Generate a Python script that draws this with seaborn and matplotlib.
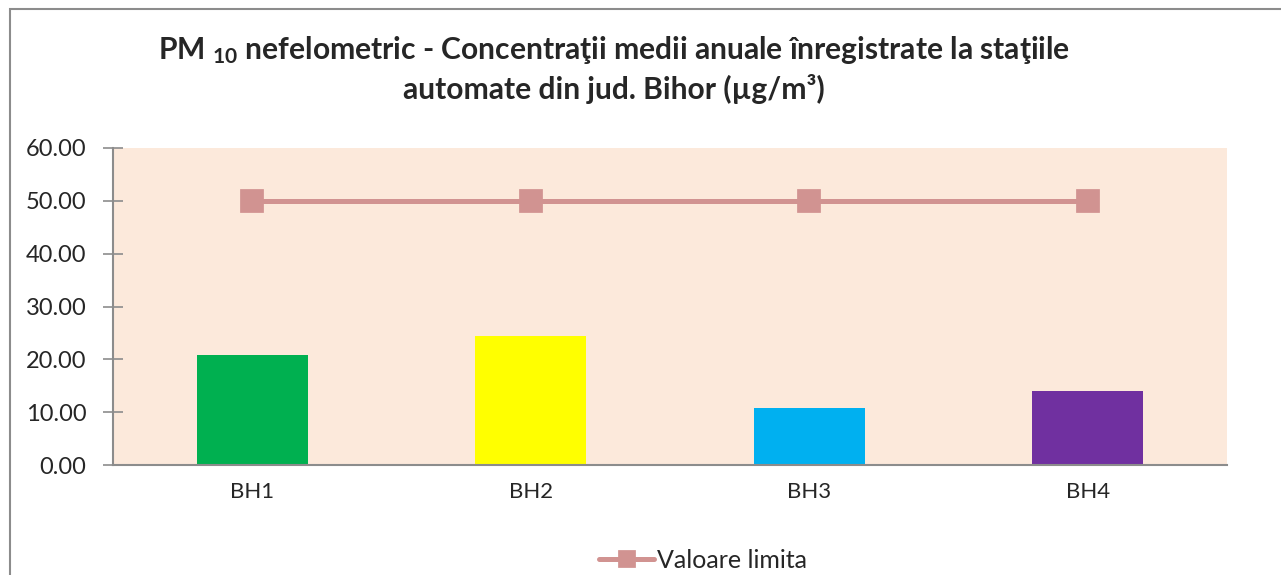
import numpy as np
import pandas as pd
import matplotlib
matplotlib.use("Agg")
import matplotlib.pyplot as plt
import seaborn as sns
from matplotlib.patches import Rectangle

# date
statii = ["BH1", "BH2", "BH3", "BH4"]
medii_anuale = [20.8, 24.5, 10.8, 14.0]
valoare_limita = [50, 50, 50, 50]
culori = ["#00B050", "#FFFF00", "#00B0F0", "#7030A0"]

sns.set_theme(style="white")
plt.rcParams["font.family"] = ["Lato", "DejaVu Sans"]
plt.rcParams["mathtext.fontset"] = "custom"
plt.rcParams["mathtext.bf"] = "Lato:bold"
plt.rcParams["mathtext.rm"] = "Lato"

df = pd.DataFrame({"statie": statii, "medie": medii_anuale, "limita": valoare_limita})

fig = plt.figure(figsize=(12.81, 5.75), dpi=100)
ax = fig.add_axes([113 / 1281, 1 - 465 / 575, (1227 - 113) / 1281, (465 - 148) / 575])
ax.set_facecolor("#FCE9DB")

sns.barplot(data=df, x="statie", y="medie", hue="statie", palette=culori,
            width=0.4, legend=False, saturation=1, linewidth=0, ax=ax)
sns.pointplot(data=df, x="statie", y="limita", color="#D19391", marker="s",
              markersize=14, linewidth=3.6, label="Valoare limita", ax=ax)

ax.set_xlim(-0.5, 3.5)
ax.set_ylim(0, 60)
ax.set_yticks(np.arange(0, 61, 10))
ax.set_yticklabels([f"{v:.2f}" for v in np.arange(0, 61, 10)], fontsize=17)
ax.set_xlabel("")
ax.set_ylabel("")
ax.tick_params(axis="x", length=0, labelsize=16, pad=12)
ax.set_xticks(range(len(statii)))
ax.set_xticks(np.arange(-0.5, 4, 1), minor=True)
ax.tick_params(axis="x", which="minor", direction="inout", length=12, color="#8C8C8C", width=1.2)
ax.tick_params(axis="y", direction="inout", length=14, color="#8C8C8C", width=1.2, pad=12, left=True)
for s in ["top", "right"]:
    ax.spines[s].set_visible(False)
for s in ["left", "bottom"]:
    ax.spines[s].set_color("#8C8C8C")
    ax.spines[s].set_linewidth(1.5)

leg = ax.legend(loc="center", bbox_to_anchor=(703 / 1281, 15 / 575),
                bbox_transform=fig.transFigure, frameon=False, fontsize=18,
                handlelength=2.2, handletextpad=0.1)
leg.legend_handles[0].set_markersize(10)

titlu = ("PM $\\mathbf{_{10}}$ nefelometric - Concentraţii medii anuale înregistrate la staţiile\n"
         "automate din jud. Bihor (µg/m³)")
fig.text(614 / 1281, 1 - 69 / 575, titlu, ha="center", va="center",
         fontsize=21.6, fontweight="bold", linespacing=1.32)

fig.add_artist(Rectangle((10 / 1281, -0.1), 1.2, 1 - 8.5 / 575 + 0.1, transform=fig.transFigure,
                         fill=False, edgecolor="#8C8C8C", linewidth=1.5))

plt.savefig("out.png", dpi=100)
